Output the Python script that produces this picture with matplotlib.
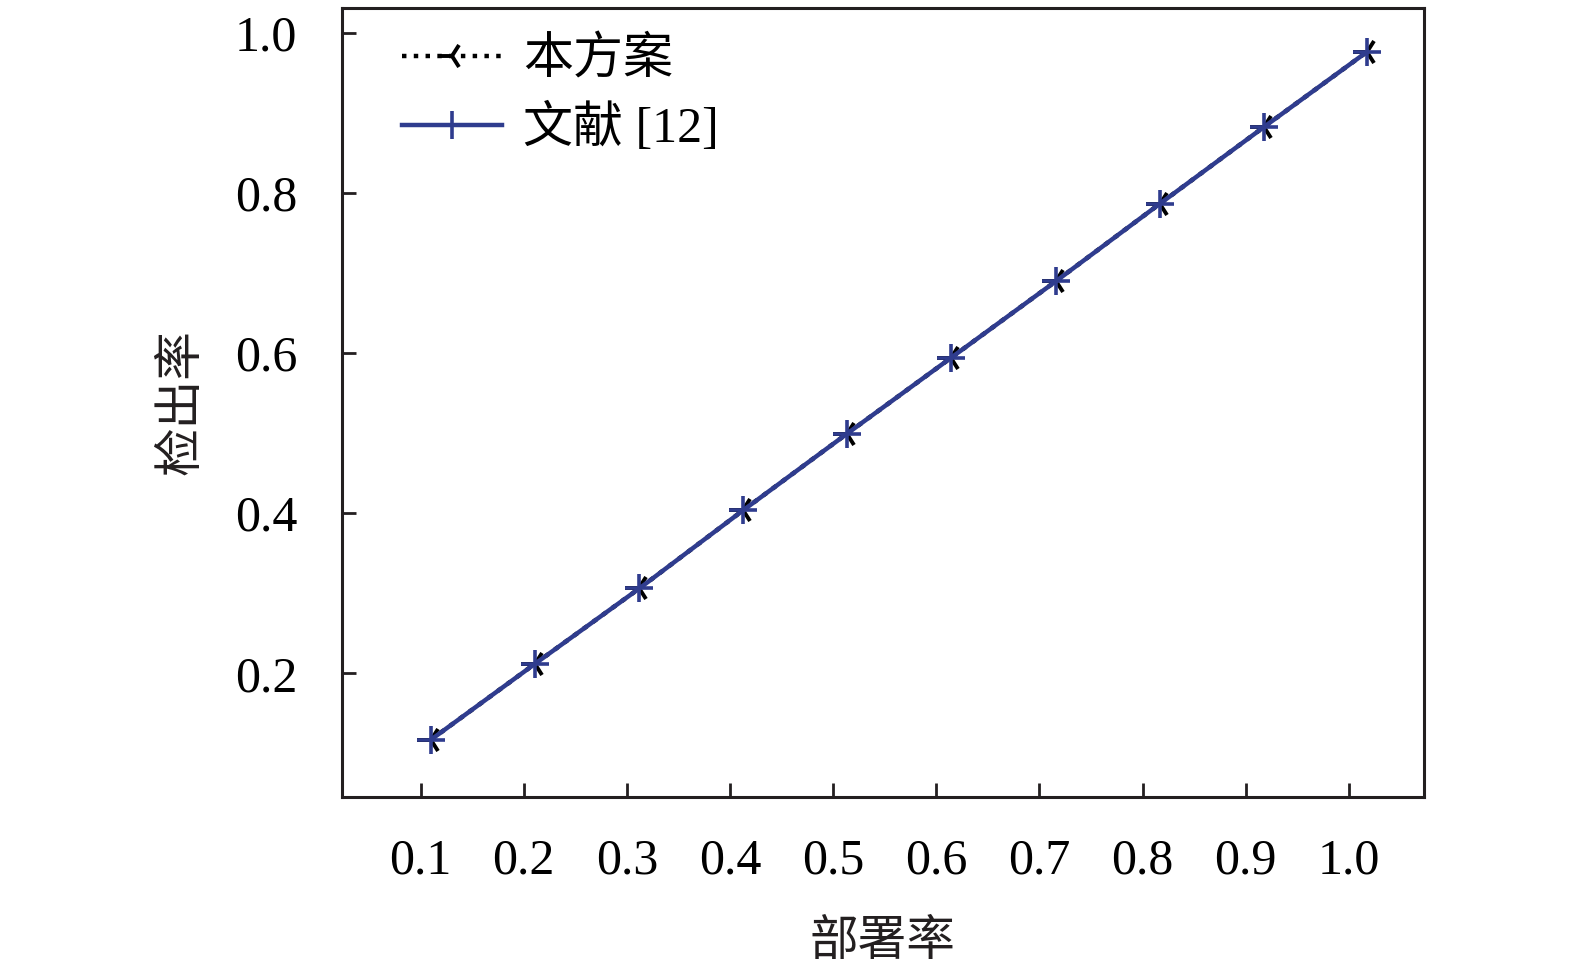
import matplotlib
matplotlib.use("Agg")
import matplotlib.pyplot as plt

# data
x_ours = [0.110, 0.211, 0.312, 0.413, 0.513, 0.614, 0.716, 0.817, 0.918, 1.018]
y_ours = [0.117, 0.212, 0.306, 0.404, 0.499, 0.594, 0.690, 0.787, 0.883, 0.977]
x_ref = [0.110, 0.211, 0.312, 0.413, 0.513, 0.614, 0.716, 0.817, 0.918, 1.018]
y_ref = [0.117, 0.212, 0.306, 0.404, 0.499, 0.594, 0.690, 0.787, 0.883, 0.977]
xticks = [0.1, 0.2, 0.3, 0.4, 0.5, 0.6, 0.7, 0.8, 0.9, 1.0]
yticks = [0.2, 0.4, 0.6, 0.8, 1.0]
label_ours = "本方案"
label_ref = "文献 [12]"
xlabel = "部署率"
ylabel = "检出率"

fam = ["Liberation Serif", "Noto Sans CJK SC"]
plt.rcParams["font.family"] = fam

fig = plt.figure(figsize=(15.75, 9.68), dpi=100)
ax = fig.add_axes([0.217, 0.177, 0.687, 0.8144])

blue = "#2f3c8e"
ax.plot(x_ours, y_ours, linestyle=":", color="black", marker="3",
        markersize=20, markeredgewidth=2.8, linewidth=3.2, label=label_ours)
ax.plot(x_ref, y_ref, linestyle="-", color=blue, marker="+",
        markersize=20, markeredgewidth=2.6, linewidth=3.2, label=label_ref)

ax.set_xlim(0.0235, 1.0727)
ax.set_ylim(0.0458, 1.031)
ax.set_xticks(xticks)
ax.set_xticklabels([f"{v:.1f}" for v in xticks])
ax.set_yticks(yticks)
ax.set_yticklabels([f"{v:.1f}" for v in yticks])

ax.tick_params(axis="both", direction="in", length=10, width=2,
               labelsize=36, color="#231f20")
ax.tick_params(axis="x", pad=30)
ax.tick_params(axis="y", pad=32)
for s in ax.spines.values():
    s.set_linewidth(2.2)
    s.set_color("#231f20")

ax.set_xlabel(xlabel, fontsize=35, labelpad=25, color="#231f20")
ax.set_ylabel(ylabel, fontsize=35, labelpad=22, color="#231f20")

ax.legend(loc="upper left", frameon=False, fontsize=36, handlelength=2.0,
          handletextpad=0.42, labelspacing=0.38, borderaxespad=0.0,
          bbox_to_anchor=(0.037, 0.988))

fig.savefig("out.png", dpi=100)
